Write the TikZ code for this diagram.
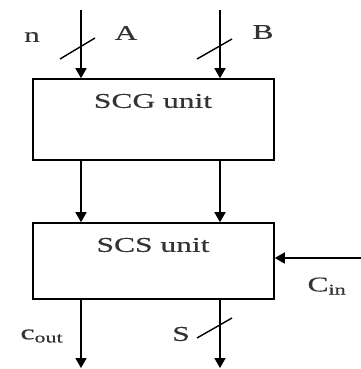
\documentclass[tikz,border=0pt]{standalone}
\usepackage{fontspec}
\setmainfont{Liberation Serif}
\newfontfamily\lblfont{Liberation Serif}[FakeBold=0.4]
\usepackage{graphicx}
\usetikzlibrary{arrows.meta}
\newcommand\sx[1]{\scalebox{1.5}[1]{#1}}
\begin{document}
\begin{tikzpicture}[x=1pt,y=-1pt,
  wire/.style={line width=1.6pt,-{Triangle[width=11pt,length=10pt]}},
  slash/.style={line width=1.4pt},
  unitbox/.style={draw,line width=1.6pt,minimum width=241pt,inner sep=0pt},
  lbl/.style={font=\lblfont\fontsize{21}{25}\selectfont,text=black!80,inner sep=0pt}]
\useasboundingbox (0,0) rectangle (360,369);
\node[unitbox,minimum height=81pt] (scg) at (153.5,119.5) {};
\node[unitbox,minimum height=76pt] (scs) at (153.5,261) {};
\node[lbl] (scgt) at (153,101) {\sx{SCG unit}};
\node[lbl] (scst) at (153,245) {\sx{SCS unit}};
% inputs
\coordinate (ain) at (81,10);
\coordinate (bin) at (220,10);
\draw[wire] (ain) -- (ain |- scg.north);
\draw[wire] (bin) -- (bin |- scg.north);
\draw[slash] (60,59) -- (95,38);
\draw[slash] (197,59) -- (232,39);
% between
\draw[wire] (ain |- scg.south) -- (ain |- scs.north);
\draw[wire] (bin |- scg.south) -- (bin |- scs.north);
% outputs
\coordinate (cout) at (81,368);
\coordinate (sout) at (220,368);
\draw[wire] (cout |- scs.south) -- (cout);
\draw[wire] (sout |- scs.south) -- (sout);
\draw[slash] (197,338) -- (232,318);
% carry in
\coordinate (cin) at (362,258);
\draw[wire] (cin) -- (cin -| scs.east);
% labels
\node[lbl] (n) at (32,37) {\sx{n}};
\node[lbl] (A) at (126,33) {\sx{A}};
\node[lbl] (B) at (263,32) {\sx{B}};
\node[lbl] (S) at (181,334) {\sx{S}};
\node[lbl] (Ci) at (327,286) {\sx{C\textsubscript{in}}};
\node[lbl] (Co) at (42,336) {\sx{c\textsubscript{out}}};
\end{tikzpicture}
\end{document}
